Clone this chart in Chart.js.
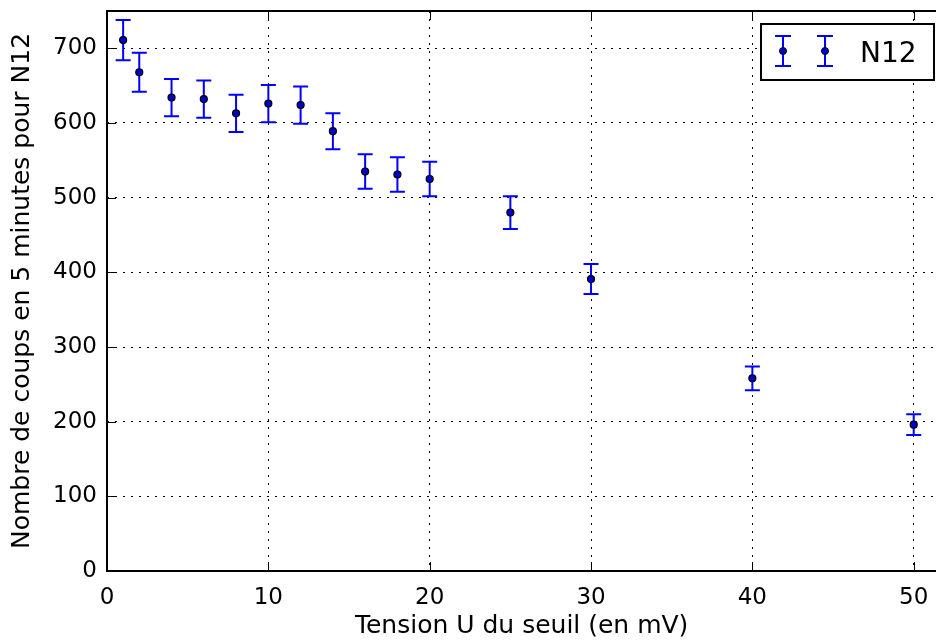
<!DOCTYPE html>
<html>
<head>
<meta charset="utf-8">
<script src="https://cdn.jsdelivr.net/npm/chart.js@4/dist/chart.umd.min.js"></script>
<style>
  html, body { margin: 0; padding: 0; background: #fff; overflow: hidden; }
  #wrap { width: 936px; height: 641px; overflow: hidden; }
  canvas { display: block; }
</style>
</head>
<body>
<div id="wrap"><canvas id="chart" width="941" height="641"></canvas></div>
<script>
// DATA
const tension = [1, 2, 4, 6, 8, 10, 12, 14, 16, 18, 20, 25, 30, 40, 50];
const counts = [711, 668, 634, 632, 613, 626, 624, 589, 535, 531, 525, 480, 391, 258, 196];
const countErr = [27, 26, 25, 25, 25, 25, 25, 24, 23, 23, 23, 22, 20, 16, 14];
const xTicks = [0, 10, 20, 30, 40, 50];
const yTicks = [0, 100, 200, 300, 400, 500, 600, 700];
const seriesLabel = "N12";

const FONT = "DejaVu Sans";
const BLUE = "#0000ff";

// ERROR BARS (drawn through the scales)
const errorBars = {
  id: "errorBars",
  beforeDatasetsDraw(chart) {
    const { ctx, scales: { x, y } } = chart;
    ctx.save();
    ctx.strokeStyle = BLUE;
    ctx.lineWidth = 2;
    tension.forEach((t, i) => {
      const px = x.getPixelForValue(t);
      const top = y.getPixelForValue(counts[i] + countErr[i]);
      const bot = y.getPixelForValue(counts[i] - countErr[i]);
      ctx.beginPath();
      ctx.moveTo(px, top); ctx.lineTo(px, bot);
      ctx.moveTo(px - 7.5, top); ctx.lineTo(px + 7.5, top);
      ctx.moveTo(px - 7.5, bot); ctx.lineTo(px + 7.5, bot);
      ctx.stroke();
    });
    ctx.restore();
  }
};

// FRAME + INWARD TICKS
const frame = {
  id: "frame",
  afterDatasetsDraw(chart) {
    const { ctx, chartArea: a, scales: { x, y } } = chart;
    ctx.save();
    ctx.strokeStyle = "#000";
    ctx.lineWidth = 1;
    ctx.beginPath();
    x.ticks.forEach(t => {
      const px = Math.round(x.getPixelForValue(t.value)) + 0.5;
      ctx.moveTo(px, a.bottom); ctx.lineTo(px, a.bottom - 9);
      ctx.moveTo(px, a.top); ctx.lineTo(px, a.top + 9);
    });
    y.ticks.forEach(t => {
      const py = Math.round(y.getPixelForValue(t.value)) + 0.5;
      ctx.moveTo(a.left, py); ctx.lineTo(a.left + 9, py);
    });
    ctx.stroke();
    ctx.lineWidth = 2;
    ctx.beginPath();
    ctx.moveTo(chart.width, a.top);
    ctx.lineTo(a.left, a.top);
    ctx.lineTo(a.left, a.bottom);
    ctx.lineTo(chart.width, a.bottom);
    ctx.stroke();
    ctx.restore();
  },
  // LEGEND
  afterDraw(chart) {
    const { ctx } = chart;
    ctx.save();
    ctx.fillStyle = "#fff";
    ctx.fillRect(761, 24, 173, 56);
    ctx.strokeStyle = "#000";
    ctx.lineWidth = 2;
    ctx.strokeRect(761, 24, 173, 56);
    [783, 825].forEach(px => {
      ctx.strokeStyle = BLUE;
      ctx.lineWidth = 2;
      ctx.beginPath();
      ctx.moveTo(px, 36); ctx.lineTo(px, 66);
      ctx.moveTo(px - 8, 36); ctx.lineTo(px + 8, 36);
      ctx.moveTo(px - 8, 66); ctx.lineTo(px + 8, 66);
      ctx.stroke();
      ctx.beginPath();
      ctx.arc(px, 51, 3.5, 0, Math.PI * 2);
      ctx.fillStyle = "#0000cc";
      ctx.fill();
      ctx.strokeStyle = "#000";
      ctx.lineWidth = 1;
      ctx.stroke();
    });
    ctx.fillStyle = "#000";
    ctx.font = "28px '" + FONT + "'";
    ctx.textBaseline = "alphabetic";
    ctx.fillText(seriesLabel, 860, 62);
    ctx.restore();
  }
};

const whiteBg = {
  id: "whiteBg",
  beforeDraw(chart) {
    const { ctx } = chart;
    ctx.save();
    ctx.fillStyle = "#fff";
    ctx.fillRect(0, 0, chart.width, chart.height);
    ctx.restore();
  }
};

new Chart(document.getElementById("chart"), {
  type: "scatter",
  data: {
    datasets: [{
      label: seriesLabel,
      data: tension.map((t, i) => ({ x: t, y: counts[i] })),
      pointRadius: 3.5,
      pointHoverRadius: 3.5,
      backgroundColor: "#0000cc",
      borderColor: "#000",
      borderWidth: 1.2
    }]
  },
  options: {
    responsive: false,
    animation: false,
    layout: { padding: { top: 11, right: 0, bottom: 0, left: 0 } },
    plugins: { legend: { display: false }, tooltip: { enabled: false } },
    scales: {
      x: {
        type: "linear",
        min: 0,
        max: 51.4,
        afterFit(s) { s.height = 70; s.paddingLeft = 0; s.paddingRight = 0; },
        afterBuildTicks(s) { s.ticks = xTicks.map(v => ({ value: v })); },
        grid: { color: "#000", lineWidth: 1, drawTicks: false },
        border: { display: false, dash: [2, 6] },
        ticks: { color: "#000", padding: 13, maxRotation: 0, font: { family: FONT, size: 23 } },
        title: {
          display: true,
          text: "Tension U du seuil (en mV)",
          color: "#000",
          padding: { top: 0, bottom: 0 },
          font: { family: FONT, size: 25, lineHeight: 1.2 }
        }
      },
      y: {
        type: "linear",
        min: 0,
        max: 750,
        afterFit(s) { s.width = 107; s.paddingTop = 0; s.paddingBottom = 0; },
        afterBuildTicks(s) { s.ticks = yTicks.map(v => ({ value: v })); },
        grid: { color: "#000", lineWidth: 1, drawTicks: false },
        border: { display: false, dash: [2, 6] },
        ticks: { color: "#000", padding: 10, font: { family: FONT, size: 23 } },
        title: {
          display: true,
          text: "Nombre de coups en 5 minutes pour N12",
          color: "#000",
          padding: { top: 7, bottom: 0 },
          font: { family: FONT, size: 25, lineHeight: 1.2 }
        }
      }
    }
  },
  plugins: [whiteBg, errorBars, frame]
});
</script>
</body>
</html>
